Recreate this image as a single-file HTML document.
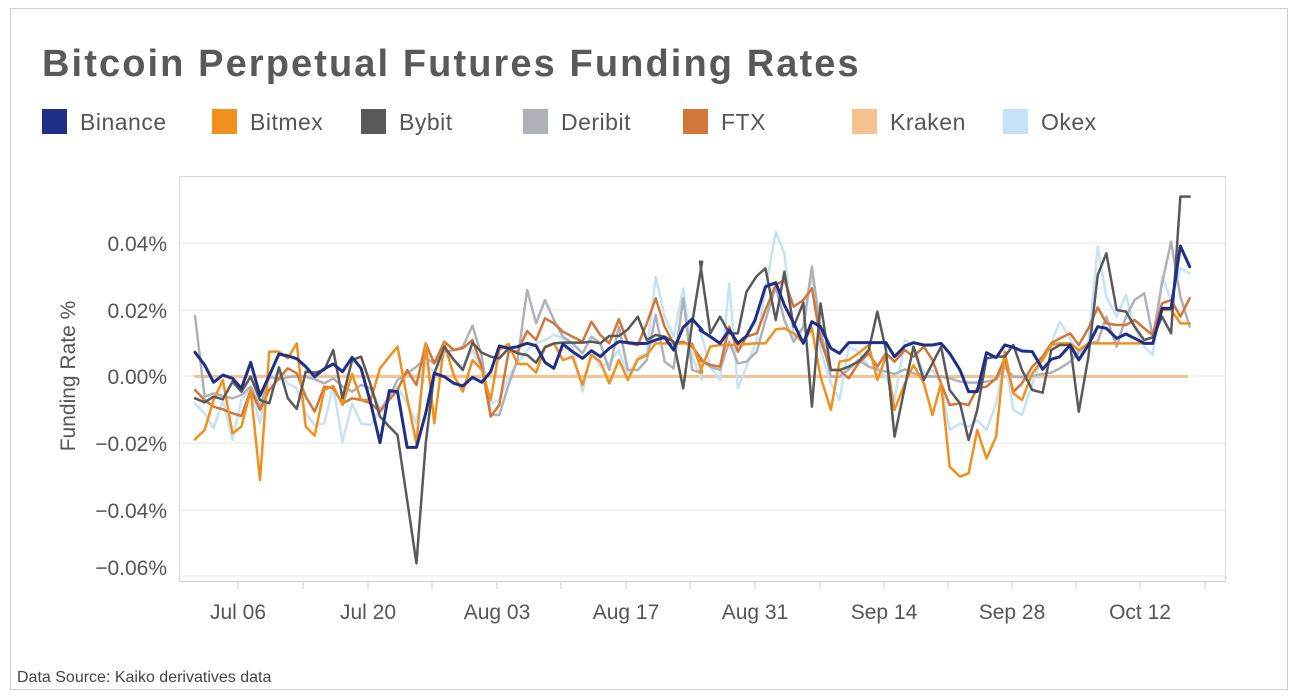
<!DOCTYPE html>
<html><head><meta charset="utf-8"><style>
body{margin:0;background:#fff;}
svg{display:block;font-family:"Liberation Sans",sans-serif;}
.s{fill:none;stroke-linejoin:round;stroke-linecap:round;}
</style></head><body>
<svg width="1296" height="698" viewBox="0 0 1296 698" xmlns="http://www.w3.org/2000/svg">
<rect x="10.5" y="8.5" width="1277" height="681" fill="#fff" stroke="#d0d0d0"/>
<text x="42" y="76" font-size="38" font-weight="bold" fill="#595959" letter-spacing="2.1">Bitcoin Perpetual Futures Funding Rates</text>
<g font-size="23" fill="#555" letter-spacing="0.5">
<rect x="42" y="109" width="25" height="25" fill="#1F2F86"/><text x="80" y="130">Binance</text>
<rect x="212" y="109" width="25" height="25" fill="#F0901E"/><text x="250" y="130">Bitmex</text>
<rect x="361" y="109" width="25" height="25" fill="#595959"/><text x="399" y="130">Bybit</text>
<rect x="523" y="109" width="25" height="25" fill="#AEB2B8"/><text x="561" y="130">Deribit</text>
<rect x="683" y="109" width="25" height="25" fill="#D2763A"/><text x="721" y="130">FTX</text>
<rect x="852" y="109" width="25" height="25" fill="#F6C28F"/><text x="890" y="130">Kraken</text>
<rect x="1003" y="109" width="25" height="25" fill="#C5E3F7"/><text x="1041" y="130">Okex</text>
</g>
<rect x="179.5" y="176.5" width="1046" height="405" fill="none" stroke="#d8d8d8"/>
<g stroke="#eeeeee" stroke-width="1.5">
<line x1="180" x2="1225" y1="243" y2="243"/><line x1="180" x2="1225" y1="310" y2="310"/>
<line x1="180" x2="1225" y1="376" y2="376"/><line x1="180" x2="1225" y1="443" y2="443"/>
<line x1="180" x2="1225" y1="510" y2="510"/><line x1="180" x2="1225" y1="576" y2="576"/>
</g>
<g stroke="#cfcfcf"><line x1="180" x2="1225" y1="581.5" y2="581.5"/>
<line x1="238" x2="238" y1="582" y2="589"/><line x1="303" x2="303" y1="582" y2="589"/><line x1="368" x2="368" y1="582" y2="589"/><line x1="432" x2="432" y1="582" y2="589"/><line x1="497" x2="497" y1="582" y2="589"/><line x1="561" x2="561" y1="582" y2="589"/><line x1="626" x2="626" y1="582" y2="589"/><line x1="690" x2="690" y1="582" y2="589"/><line x1="755" x2="755" y1="582" y2="589"/><line x1="820" x2="820" y1="582" y2="589"/><line x1="884" x2="884" y1="582" y2="589"/><line x1="948" x2="948" y1="582" y2="589"/><line x1="1012" x2="1012" y1="582" y2="589"/><line x1="1076" x2="1076" y1="582" y2="589"/><line x1="1140" x2="1140" y1="582" y2="589"/><line x1="1205" x2="1205" y1="582" y2="589"/>
</g>
<g font-size="21" fill="#555" text-anchor="end">
<text x="167" y="251">0.04%</text><text x="167" y="318">0.02%</text><text x="167" y="384">0.00%</text>
<text x="167" y="451">−0.02%</text><text x="167" y="518">−0.04%</text><text x="167" y="575">−0.06%</text>
</g>
<text transform="translate(75,376) rotate(-90)" font-size="21" fill="#555" text-anchor="middle">Funding Rate %</text>
<g font-size="21" fill="#555" text-anchor="middle">
<text x="238" y="619">Jul 06</text><text x="368" y="619">Jul 20</text><text x="497" y="619">Aug 03</text><text x="626" y="619">Aug 17</text>
<text x="755" y="619">Aug 31</text><text x="884" y="619">Sep 14</text><text x="1012" y="619">Sep 28</text><text x="1140" y="619">Oct 12</text>
</g>
<text x="17" y="682" font-size="16" fill="#444">Data Source: Kaiko derivatives data</text>

<line x1="194" x2="1188" y1="376.5" y2="376.5" stroke="#F6C28F" stroke-width="3"/>

<g transform="translate(170,170) scale(0.35714,0.33333)">
<polyline class="s" vector-effect="non-scaling-stroke" stroke="#C5E3F7" stroke-width="2.5" points="70,700 97,730 122,775 148,690 175,810 200,690 226,655 252,760 278,625 305,610 330,640 355,655 380,730 405,765 432,760 457,650 483,815 510,700 535,760 562,765 588,720 614,690 637,650 664,700 690,760 716,580 740,610 768,555 795,570 820,590 847,540 873,600 898,700 922,690 948,620 973,580 1000,540 1025,520 1050,510 1075,495 1100,505 1127,535 1155,665 1180,545 1205,590 1230,580 1257,540 1282,620 1310,560 1335,550 1360,320 1385,440 1410,500 1437,355 1462,560 1490,630"/>
<polyline class="s" vector-effect="non-scaling-stroke" stroke="#AEB2B8" stroke-width="2.5" points="70,438 97,680 122,670 148,678 175,685 200,675 226,650 252,710 278,620 305,628 330,622 355,618 380,620 405,628 432,640 457,625 483,650 510,665 535,645 562,655 588,720 614,680 637,630 664,610 690,590 716,565 740,580 768,545 795,540 820,530 847,467 873,560 898,735 922,735 948,645 973,570 1000,360 1025,460 1050,390 1075,450 1100,500 1127,520 1155,550 1180,500 1205,520 1230,600 1257,470 1282,600 1310,600 1335,570 1360,435 1385,575 1410,595 1437,385 1462,600 1490,610"/>
<polyline class="s" vector-effect="non-scaling-stroke" stroke="#D2763A" stroke-width="2.5" points="70,660 97,690 122,710 148,718 175,730 200,738 226,660 252,720 278,660 305,625 330,595 355,610 380,680 405,725 432,650 457,655 483,700 510,685 535,690 562,700 588,725 614,690 637,660 664,600 690,645 716,520 740,580 768,515 795,540 820,535 847,510 873,590 898,740 922,705 948,545 973,545 1000,483 1025,510 1050,445 1075,460 1100,485 1127,500 1155,515 1180,455 1205,495 1230,520 1257,447 1282,520 1310,525 1335,460 1360,385 1385,470 1410,520 1437,515 1462,530 1490,570"/>
<polyline class="s" vector-effect="non-scaling-stroke" stroke="#F0901E" stroke-width="2.5" points="70,808 97,780 122,690 148,630 175,790 200,770 226,660 252,930 278,545 305,545 330,565 355,520 380,770 405,797 432,660 457,648 483,705 510,612 535,690 562,690 588,595 614,560 637,530 664,685 690,820 716,520 740,760 768,520 795,618 820,665 847,570 873,600 898,690 922,540 948,522 973,582 1000,582 1025,608 1050,530 1075,520 1100,570 1127,560 1155,645 1180,555 1205,575 1230,640 1257,570 1282,630 1310,568 1335,555 1360,520 1385,520 1410,520 1437,520 1462,520 1490,605"/>
<polyline class="s" vector-effect="non-scaling-stroke" stroke="#595959" stroke-width="2.5" points="70,685 97,697 122,680 148,688 175,635 200,665 226,620 252,690 278,700 305,592 330,685 355,717 380,605 405,608 432,600 457,540 483,685 510,570 535,560 562,645 588,740 614,770 637,795 664,990 690,1180 716,820 740,610 768,530 795,570 820,600 847,518 873,548 898,560 922,565 948,535 973,550 1000,555 1025,578 1050,532 1075,520 1100,518 1127,518 1155,518 1180,515 1205,520 1230,498 1257,498 1282,478 1310,440 1335,510 1360,495 1385,500 1410,515 1437,655 1462,460 1490,275"/>
<polyline class="s" vector-effect="non-scaling-stroke" stroke="#1F2F86" stroke-width="3" points="70,547 97,585 122,637 148,615 175,625 200,655 226,577 252,677 280,612 305,552 330,558 355,566 380,590 405,620 430,598 457,582 483,605 510,562 535,595 562,700 588,818 614,662 637,665 664,832 690,832 716,730 740,610 768,620 795,640 820,648 847,622 873,637 898,605 922,528 948,535 973,530 1000,520 1025,527 1050,577 1075,595 1100,522 1127,545 1155,565 1180,542 1205,560 1230,535 1257,515 1282,518 1310,521 1335,520 1360,510 1385,502 1410,540 1437,472 1462,447 1490,480"/>
</g>

<g transform="translate(700,170) scale(0.34435,0.33333)">
<polyline class="s" vector-effect="non-scaling-stroke" stroke="#C5E3F7" stroke-width="2.5" points="0,480 30,590 58,630 85,340 110,655 135,590 165,510 190,360 220,185 245,250 272,500 300,480 325,310 350,540 380,640 405,690 432,530 460,545 490,590 515,600 540,620 565,690 595,510 620,530 650,610 675,600 700,640 725,780 755,760 780,770 805,750 832,780 860,700 885,565 910,720 935,735 965,640 995,560 1020,520 1045,455 1075,505 1100,560 1128,520 1155,230 1180,380 1210,440 1237,375 1262,470 1290,530 1315,555 1342,320 1368,390 1395,295 1422,310"/>
<polyline class="s" vector-effect="non-scaling-stroke" stroke="#AEB2B8" stroke-width="2.5" points="0,570 30,590 58,600 85,515 110,580 135,575 165,545 190,450 220,350 245,450 272,515 300,470 325,290 350,480 380,620 405,620 432,598 460,570 490,590 515,598 540,605 565,612 595,598 620,610 650,618 675,620 700,620 725,625 755,635 780,638 805,638 832,635 860,628 885,592 910,620 935,622 965,618 995,612 1020,608 1045,595 1075,575 1100,545 1128,520 1155,515 1180,440 1210,530 1237,440 1262,390 1290,370 1315,500 1342,340 1368,215 1395,380 1422,470"/>
<polyline class="s" vector-effect="non-scaling-stroke" stroke="#D2763A" stroke-width="2.5" points="0,570 30,585 58,590 85,470 110,545 135,500 165,490 190,420 220,345 245,330 272,410 300,390 325,355 350,510 380,600 405,600 432,625 460,580 490,550 515,590 540,550 565,575 595,540 620,560 650,530 675,570 700,640 725,705 755,700 780,705 805,655 832,650 860,625 885,565 910,665 935,640 965,590 995,560 1020,520 1045,505 1075,490 1100,525 1128,475 1155,412 1180,460 1210,465 1237,465 1262,450 1290,475 1315,495 1342,400 1368,390 1395,440 1422,385"/>
<polyline class="s" vector-effect="non-scaling-stroke" stroke="#F0901E" stroke-width="2.5" points="0,605 30,530 58,525 85,525 110,525 135,522 160,520 190,520 220,478 245,475 272,490 300,518 325,475 350,620 380,720 405,575 432,570 460,550 490,525 515,630 540,560 565,720 595,640 620,585 650,640 675,735 700,640 725,890 755,920 780,910 805,780 832,865 860,800 885,545 910,670 935,690 965,610 995,570 1020,525 1045,520 1075,520 1100,540 1128,520 1155,520 1180,520 1210,520 1237,520 1262,520 1290,520 1315,520 1342,420 1368,420 1395,460 1422,460"/>
<polyline class="s" vector-effect="non-scaling-stroke" stroke="#595959" stroke-width="2.5" points="0,275 30,490 58,440 85,490 110,490 135,365 165,318 190,295 220,450 245,305 272,470 300,398 325,710 350,400 380,600 405,600 432,590 460,575 490,540 515,425 540,540 565,800 595,650 620,530 650,630 675,580 700,530 725,660 755,700 780,810 805,720 832,565 860,560 885,560 910,525 935,600 965,660 995,668 1020,540 1045,525 1075,525 1100,725 1128,560 1155,315 1180,250 1210,420 1237,425 1262,470 1290,510 1315,502 1342,440 1368,490 1395,80 1422,80"/>
<polyline class="s" vector-effect="non-scaling-stroke" stroke="#1F2F86" stroke-width="3" points="0,480 30,500 58,520 85,480 110,520 135,498 160,450 190,350 220,338 245,405 272,460 300,520 325,455 350,470 380,535 405,550 432,518 460,518 490,518 515,518 540,518 565,560 595,528 620,518 650,525 675,525 700,520 725,550 755,600 780,665 805,665 832,548 860,563 885,525 910,532 935,543 965,545 995,598 1020,568 1045,560 1075,525 1100,570 1128,525 1155,470 1180,475 1210,505 1237,492 1262,505 1290,520 1315,520 1342,415 1368,415 1395,228 1422,290"/>
</g>
</svg>
</body></html>
